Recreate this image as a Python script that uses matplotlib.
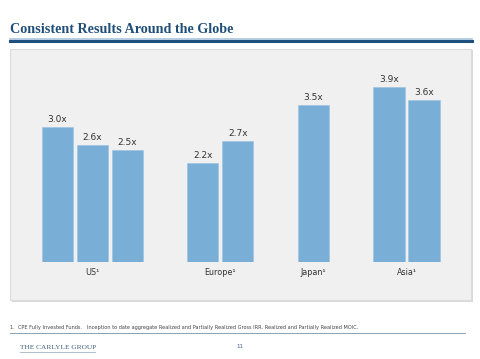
import matplotlib
matplotlib.use("Agg")
import matplotlib.pyplot as plt
from matplotlib.patches import Rectangle
from matplotlib.lines import Line2D

# data
regions = ["US¹", "Europe¹", "Japan¹", "Asia¹"]
us_moic = [3.0, 2.6, 2.5]
europe_moic = [2.2, 2.7]
japan_moic = [3.5]
asia_moic = [3.9, 3.6]
groups = [us_moic, europe_moic, japan_moic, asia_moic]

title = "Consistent Results Around the Globe"
footnote = ("1.  CPE Fully Invested Funds.   Inception to date aggregate Realized and "
            "Partially Realized Gross IRR. Realized and Partially Realized MOIC.")

bar_color = "#79aed6"
W, H = 480, 359

fig = plt.figure(figsize=(W / 100, H / 100), dpi=100)
fig.patch.set_facecolor("white")

def fx(px):
    return px / W

def fy(py):
    # py measured from top of picture
    return 1 - py / H

# title and rule
fig.text(fx(10), fy(33), title, family="Liberation Serif", weight="bold",
         fontsize=10.2, color="#1f4e79", va="baseline", ha="left")
fig.add_artist(Line2D([fx(10), fx(472)], [fy(38.5), fy(38.5)], color="#a9c4dd", lw=1.2))
fig.add_artist(Line2D([fx(10), fx(472)], [fy(41), fy(41)], color="#1d4f7f", lw=2.2))

# grey panel with soft shadow (behind the axes)
fig.add_artist(Rectangle((fx(11.5), fy(301.5)), fx(461), 252 / H, facecolor="#d9d9d9",
                         edgecolor="none", zorder=-2))
fig.add_artist(Rectangle((fx(10), fy(300)), fx(461), 251 / H, facecolor="#f0f0f0",
                         edgecolor="#dcdcdc", lw=0.8, zorder=-1))

# bars
ax = fig.add_axes([fx(20), 97 / H, fx(442), 202 / H])
ax.set_facecolor("none")
ax.patch.set_alpha(0)

gap = 1.16
positions = []
centers = []
x = 0.0
for g in groups:
    xs = [x + i for i in range(len(g))]
    positions.append(xs)
    centers.append(sum(xs) / len(xs))
    x = xs[-1] + 1 + gap

for xs, vals in zip(positions, groups):
    ax.bar(xs, vals, width=0.886, color=bar_color, edgecolor="#9cc3e3", linewidth=0.4)
    for xi, v in zip(xs, vals):
        ax.annotate(f"{v:.1f}x", (xi, v), xytext=(0, 3.5), textcoords="offset points",
                    ha="center", va="baseline", fontsize=6.5, color="#333333")

for c, name in zip(centers, regions):
    ax.annotate(name, (c, 0), xytext=(0, -7.5), textcoords="offset points",
                ha="center", va="center", fontsize=5.8, color="#333333")

ax.set_xlim(-1.063, -1.063 + 442 / 35)
ax.set_ylim(0, 202 / 44.9)
ax.axis("off")

# footer
fig.text(fx(10), fy(329), footnote, fontsize=3.6, color="#444444", va="baseline", ha="left")
fig.add_artist(Line2D([fx(10), fx(465)], [fy(333), fy(333)], color="#8aa2b5", lw=0.7))
fig.text(fx(20), fy(349), "THE CARLYLE GROUP", family="Liberation Serif", fontsize=5.3,
         color="#3d5f80", va="baseline", ha="left")
fig.add_artist(Line2D([fx(20), fx(95)], [fy(352), fy(352)], color="#9fb4c6", lw=0.6))
fig.text(fx(240), fy(348), "11", fontsize=4, color="#3d5f80", va="baseline", ha="center")

fig.savefig("out.png", dpi=100)
